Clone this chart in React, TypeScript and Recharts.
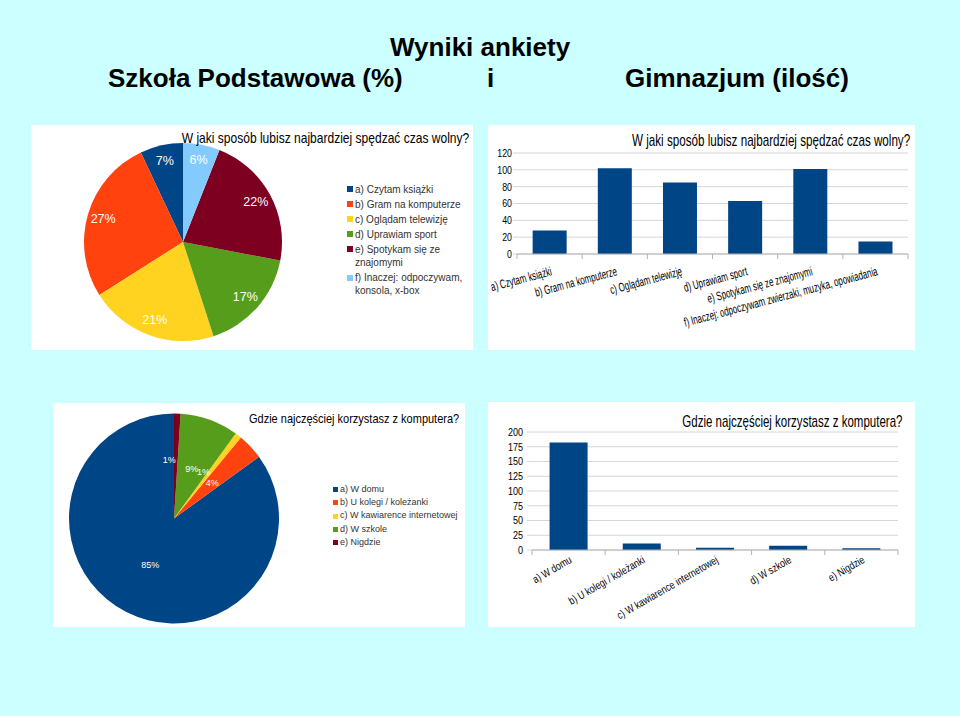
import React from 'react'
import { PieChart, Pie, Cell, BarChart, Bar, XAxis, YAxis, CartesianGrid, Legend } from 'recharts'

const FONT = '"Liberation Sans", Arial, sans-serif'
const PAGE_BG = '#ccffff'
const BAR_COLOR = '#004586'
const GRID = '#d6d6d6'
const AXIS = '#b3b3b3'

// LibreOffice default chart palette
const sliceColors = ['#004586', '#ff420e', '#ffd320', '#579d1c', '#7e0021', '#83caff']

// Szkoła Podstawowa (%) - wolny czas
const freeTimeLabels = [
  'a) Czytam książki',
  'b) Gram na komputerze',
  'c) Oglądam telewizję',
  'd) Uprawiam sport',
  'e) Spotykam się ze znajomymi',
  'f) Inaczej: odpoczywam, konsola, x-box',
]
const freeTimePercent = [7, 27, 21, 17, 22, 6]

// Gimnazjum (ilość) - wolny czas
const freeTimeBarLabels = [
  'a) Czytam książki',
  'b) Gram na komputerze',
  'c) Oglądam telewizję',
  'd) Uprawiam sport',
  'e) Spotykam się ze znajomymi',
  'f) Inaczej: odpoczywam zwierzaki, muzyka, opowiadania',
]
const freeTimeCounts = [28, 102, 85, 63, 101, 15]
const freeTimeTicks = [0, 20, 40, 60, 80, 100, 120]

// Gdzie korzystasz z komputera
const computerLabels = [
  'a) W domu',
  'b) U kolegi / koleżanki',
  'c) W kawiarence internetowej',
  'd) W szkole',
  'e) Nigdzie',
]
const computerPercent = [85, 4, 1, 9, 1]
const computerCounts = [182, 11, 4, 7, 3]
const computerTicks = [0, 25, 50, 75, 100, 125, 150, 175, 200]

const freeTimePie = freeTimeLabels.map((name, i) => ({ name, value: freeTimePercent[i], fill: sliceColors[i] }))
const computerPie = computerLabels.map((name, i) => ({ name, value: computerPercent[i], fill: sliceColors[i] }))
const freeTimeBars = freeTimeBarLabels.map((name, i) => ({ name, value: freeTimeCounts[i] }))
const computerBars = computerLabels.map((name, i) => ({ name, value: computerCounts[i] }))

const RAD = Math.PI / 180
const NO_MARGIN = { top: 0, right: 0, bottom: 0, left: 0 }

// tiny slices get their label pushed a bit out and right-aligned so they don't pile up
const pieLabel = (factor: number, fontSize: number) => (props: any) => {
  const { cx, cy, midAngle, outerRadius, percent, value } = props
  const tiny = percent < 0.02
  const r = outerRadius * (tiny ? factor * 1.12 : factor)
  const x = cx + r * Math.cos(-midAngle * RAD)
  const y = cy + r * Math.sin(-midAngle * RAD)
  return (
    <text
      x={x}
      y={y}
      fill="#fff"
      fontSize={fontSize}
      fontFamily={FONT}
      textAnchor={tiny ? 'end' : 'middle'}
      dominantBaseline="central"
    >
      {value}%
    </text>
  )
}

const PieLegend = ({ payload, fontSize, box, gap, colors }: any) => (
  <div style={{ fontFamily: FONT, fontSize, lineHeight: '13.4px', color: '#333' }}>
    {(payload || []).map((entry: any, i: number) => (
      <div key={i} style={{ display: 'flex', alignItems: 'flex-start', marginBottom: gap }}>
        <span
          style={{
            width: box,
            height: box,
            background: colors[i] || entry.color,
            marginTop: (13.4 - box) / 2,
            marginRight: 2,
            flex: 'none',
          }}
        />
        <span>{entry.value}</span>
      </div>
    ))}
  </div>
)

const makeXTick = (count: number, angle: number, sx: number, fontSize: number, dx: number, dy: number) => (props: any) => {
  const { x, y, payload, index } = props
  const half = payload.offset || 0
  return (
    <g>
      <line x1={x - half} x2={x - half} y1={y} y2={y + 5} stroke={AXIS} />
      {index === count - 1 && <line x1={x + half} x2={x + half} y1={y} y2={y + 5} stroke={AXIS} />}
      <text
        transform={`translate(${x + dx},${y + dy}) rotate(${angle}) scale(${sx},1)`}
        textAnchor="end"
        fontSize={fontSize}
        fontFamily={FONT}
        fill="#000"
      >
        {payload.value}
      </text>
    </g>
  )
}

const makeYTick = (sx: number, fontSize: number) => (props: any) => {
  const { x, y, payload } = props
  return (
    <text
      transform={`translate(${x},${y}) scale(${sx},1)`}
      textAnchor="end"
      dy="0.35em"
      fontSize={fontSize}
      fontFamily={FONT}
      fill="#000"
    >
      {payload.value}
    </text>
  )
}

const panel = (left: number, top: number, width: number, height: number): React.CSSProperties => ({
  position: 'absolute',
  left,
  top,
  width,
  height,
  background: '#fff',
})

// narrow chart titles, squeezed horizontally like the original office export
const NarrowTitle = ({ x, y, size, sx, children }: any) => (
  <text transform={`translate(${x},${y}) scale(${sx},1)`} fontSize={size} fontFamily={FONT} fill="#000">
    {children}
  </text>
)

export default function App() {
  return (
    <div style={{ position: 'absolute', left: 0, top: 0, width: 960, height: 716, background: PAGE_BG, overflow: 'hidden' }}>
      {/* top left: pie, free time (%) */}
      <div style={panel(31, 125, 442, 225)}>
        <PieChart width={442} height={225} margin={NO_MARGIN}>
          <Pie
            data={freeTimePie}
            dataKey="value"
            nameKey="name"
            cx={152}
            cy={117}
            outerRadius={99}
            startAngle={90}
            endAngle={450}
            stroke="none"
            labelLine={false}
            label={pieLabel(0.84, 12.5)}
            isAnimationActive={false}
          >
            {freeTimePie.map((d, i) => (
              <Cell key={i} fill={d.fill} />
            ))}
          </Pie>
          <Legend
            content={(p: any) => <PieLegend {...p} fontSize={10} box={6} gap={1.6} colors={sliceColors} />}
            wrapperStyle={{ position: 'absolute', left: 316, top: 57.6, width: 122 }}
          />
        </PieChart>
      </div>

      {/* top right: bars, free time (count) */}
      <div style={panel(488, 125, 427, 225)}>
        <BarChart width={427} height={225} data={freeTimeBars} margin={{ top: 28, right: 7, left: 0, bottom: 0 }} barCategoryGap="24%">
          <CartesianGrid vertical={false} stroke={GRID} />
          <XAxis
            dataKey="name"
            interval={0}
            height={96}
            tickSize={0}
            tickMargin={0}
            tickLine={false}
            axisLine={{ stroke: AXIS }}
            tick={makeXTick(freeTimeBars.length, -15, 0.64, 12.5, 3, 21)}
          />
          <YAxis
            width={29}
            domain={[0, 120]}
            ticks={freeTimeTicks}
            interval={0}
            tickSize={4}
            tickMargin={1}
            axisLine={false}
            tickLine={{ stroke: GRID }}
            tick={makeYTick(0.8, 11)}
          />
          <Bar dataKey="value" fill={BAR_COLOR} isAnimationActive={false} />
        </BarChart>
      </div>

      {/* bottom left: pie, computer (%) */}
      <div style={panel(53, 403, 412, 224)}>
        <PieChart width={412} height={224} margin={NO_MARGIN}>
          <Pie
            data={computerPie}
            dataKey="value"
            nameKey="name"
            cx={121}
            cy={115.5}
            outerRadius={105}
            startAngle={90}
            endAngle={450}
            stroke="none"
            labelLine={false}
            label={pieLabel(0.5, 9)}
            isAnimationActive={false}
          >
            {computerPie.map((d, i) => (
              <Cell key={i} fill={d.fill} />
            ))}
          </Pie>
          <Legend
            content={(p: any) => <PieLegend {...p} fontSize={9} box={5} gap={0} colors={sliceColors} />}
            wrapperStyle={{ position: 'absolute', left: 280, top: 79.6, width: 130 }}
          />
        </PieChart>
      </div>

      {/* bottom right: bars, computer (count) */}
      <div style={panel(488, 402, 427, 225)}>
        <BarChart width={427} height={225} data={computerBars} margin={{ top: 30, right: 17, left: 0, bottom: 0 }} barCategoryGap="24%">
          <CartesianGrid vertical={false} stroke={GRID} />
          <XAxis
            dataKey="name"
            interval={0}
            height={77}
            tickSize={0}
            tickMargin={0}
            tickLine={false}
            axisLine={{ stroke: AXIS }}
            tick={makeXTick(computerBars.length, -30, 0.8, 11, 4, 12)}
          />
          <YAxis
            width={44}
            domain={[0, 200]}
            ticks={computerTicks}
            interval={0}
            tickSize={5}
            tickMargin={4}
            axisLine={false}
            tickLine={{ stroke: GRID }}
            tick={makeYTick(0.82, 11)}
          />
          <Bar dataKey="value" fill={BAR_COLOR} isAnimationActive={false} />
        </BarChart>
      </div>

      {/* titles */}
      <svg width={960} height={716} style={{ position: 'absolute', left: 0, top: 0, pointerEvents: 'none' }}>
        <g fontFamily={FONT} fontWeight="bold" fontSize={26} fill="#000">
          <text x={390} y={56}>Wyniki ankiety</text>
          <text x={108} y={87}>Szkoła Podstawowa (%)</text>
          <text x={487} y={87}>i</text>
          <text x={625} y={87}>Gimnazjum (ilość)</text>
        </g>
        <NarrowTitle x={181.7} y={142.7} size={14} sx={0.86}>
          W jaki sposób lubisz najbardziej spędzać czas wolny?
        </NarrowTitle>
        <NarrowTitle x={632} y={146} size={17} sx={0.685}>
          W jaki sposób lubisz najbardziej spędzać czas wolny?
        </NarrowTitle>
        <NarrowTitle x={249} y={422.7} size={12.5} sx={0.88}>
          Gdzie najczęściej korzystasz z komputera?
        </NarrowTitle>
        <NarrowTitle x={682.3} y={427.3} size={16} sx={0.72}>
          Gdzie najczęściej korzystasz z komputera?
        </NarrowTitle>
      </svg>
    </div>
  )
}
